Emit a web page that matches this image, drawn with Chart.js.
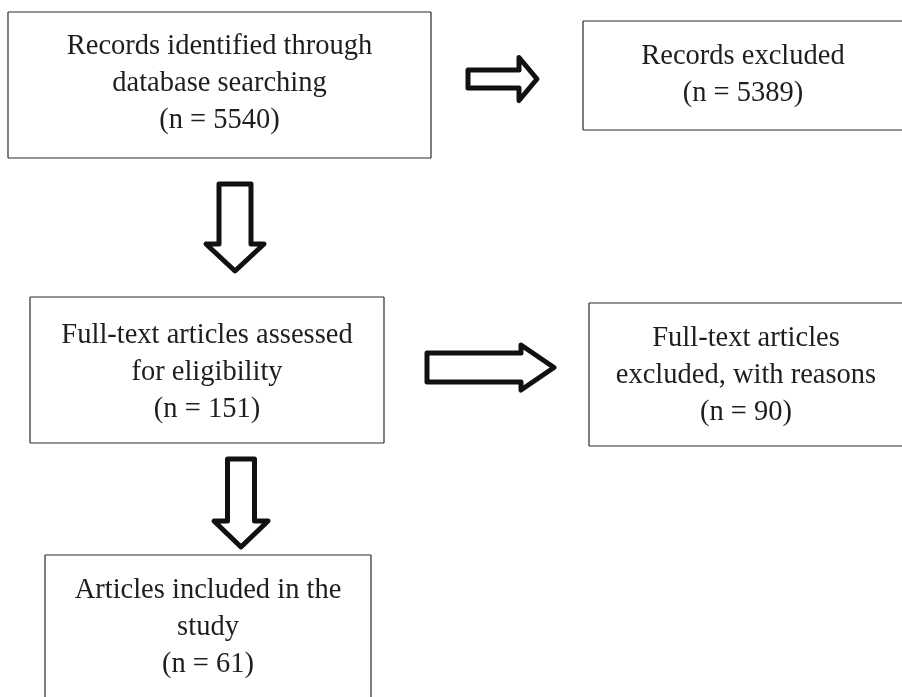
<!DOCTYPE html>
<html>
<head>
<meta charset="utf-8">
<script src="https://cdn.jsdelivr.net/npm/chart.js@4/dist/chart.umd.min.js"></script>
<style>
    html, body { margin: 0; padding: 0; background: #fff; }
    #wrap { width: 902px; height: 697px; }
</style>
</head>
<body>
<div id="wrap"><canvas id="flowChart"></canvas></div>
<script>
// Flow stages (text) and their counts
const stageLabels = [
    ['Records identified through', 'database searching'],
    ['Records excluded'],
    ['Full-text articles assessed', 'for eligibility'],
    ['Full-text articles', 'excluded, with reasons'],
    ['Articles included in the', 'study']
];
const stageCounts = [5540, 5389, 151, 90, 61];

// Box layout in page units (x0, y0, x1, y1), drawn through the scales
const boxLayout = [
    [8, 12, 431, 158],
    [583, 21, 903, 130],
    [30, 297, 384, 443],
    [589, 303, 903, 446],
    [45, 555, 371, 700]
];
// which sides get a border: top, right, bottom, left
const boxSides = [
    [1, 1, 1, 1],
    [1, 0, 1, 1],
    [1, 1, 1, 1],
    [1, 0, 1, 1],
    [1, 1, 0, 1]
];
// first text line centre y for each box
const textTop = [47, 57, 336, 339, 591];

// Arrows: direction, start, end, shaft half width, head half width, head length
const arrows = [
    { dir: 'right', x0: 468, x1: 537, y: 79, shaft: 9, head: 21.5, headLen: 18 },
    { dir: 'down', y0: 184, y1: 271, x: 235, shaft: 16, head: 29, headLen: 27 },
    { dir: 'right', x0: 427, x1: 554, y: 367.5, shaft: 14.5, head: 22.5, headLen: 33 },
    { dir: 'down', y0: 459, y1: 547, x: 241, shaft: 13.5, head: 27, headLen: 26 }
];

const flowPlugin = {
    id: 'flowPlugin',
    afterDraw(chart) {
        const ctx = chart.ctx;
        const xs = chart.scales.x;
        const ys = chart.scales.y;
        const px = v => xs.getPixelForValue(v);
        const py = v => ys.getPixelForValue(v);

        ctx.save();
        // boxes
        boxLayout.forEach((b, i) => {
            const x0 = px(b[0]), y0 = py(b[1]), x1 = px(b[2]), y1 = py(b[3]);
            const s = boxSides[i];
            ctx.strokeStyle = '#2a2a2a';
            ctx.lineWidth = 1.2;
            ctx.beginPath();
            if (s[0]) { ctx.moveTo(x0, y0); ctx.lineTo(x1, y0); }
            if (s[1]) { ctx.moveTo(x1, y0); ctx.lineTo(x1, y1); }
            if (s[2]) { ctx.moveTo(x0, y1); ctx.lineTo(x1, y1); }
            if (s[3]) { ctx.moveTo(x0, y0); ctx.lineTo(x0, y1); }
            ctx.stroke();

            // text
            const lines = stageLabels[i].concat(['(n = ' + stageCounts[i] + ')']);
            ctx.fillStyle = '#1e1e1e';
            ctx.font = '28.5px "Liberation Serif", "Times New Roman", serif';
            ctx.textAlign = 'center';
            ctx.textBaseline = 'middle';
            const cx = (x0 + x1) / 2;
            lines.forEach((t, k) => {
                ctx.fillText(t, cx, py(textTop[i] + k * 37));
            });
        });

        // block arrows
        ctx.lineWidth = 5;
        ctx.lineJoin = 'round';
        ctx.strokeStyle = '#111';
        ctx.fillStyle = '#fff';
        arrows.forEach(a => {
            ctx.beginPath();
            if (a.dir === 'right') {
                const hx = a.x1 - a.headLen;
                ctx.moveTo(px(a.x0), py(a.y - a.shaft));
                ctx.lineTo(px(hx), py(a.y - a.shaft));
                ctx.lineTo(px(hx), py(a.y - a.head));
                ctx.lineTo(px(a.x1), py(a.y));
                ctx.lineTo(px(hx), py(a.y + a.head));
                ctx.lineTo(px(hx), py(a.y + a.shaft));
                ctx.lineTo(px(a.x0), py(a.y + a.shaft));
            } else {
                const hy = a.y1 - a.headLen;
                ctx.moveTo(px(a.x - a.shaft), py(a.y0));
                ctx.lineTo(px(a.x + a.shaft), py(a.y0));
                ctx.lineTo(px(a.x + a.shaft), py(hy));
                ctx.lineTo(px(a.x + a.head), py(hy));
                ctx.lineTo(px(a.x), py(a.y1));
                ctx.lineTo(px(a.x - a.head), py(hy));
                ctx.lineTo(px(a.x - a.shaft), py(hy));
            }
            ctx.closePath();
            ctx.fill();
            ctx.stroke();
        });
        ctx.restore();
    }
};

new Chart(document.getElementById('flowChart').getContext('2d'), {
    type: 'scatter',
    data: { datasets: [{ data: [], pointRadius: 0 }] },
    options: {
        responsive: true,
        maintainAspectRatio: false,
        animation: false,
        layout: { padding: 0 },
        plugins: { legend: { display: false }, tooltip: { enabled: false } },
        scales: {
            x: { type: 'linear', min: 0, max: 902, display: false },
            y: { type: 'linear', min: 0, max: 697, reverse: true, display: false }
        }
    },
    plugins: [flowPlugin]
});
</script>
</body>
</html>
